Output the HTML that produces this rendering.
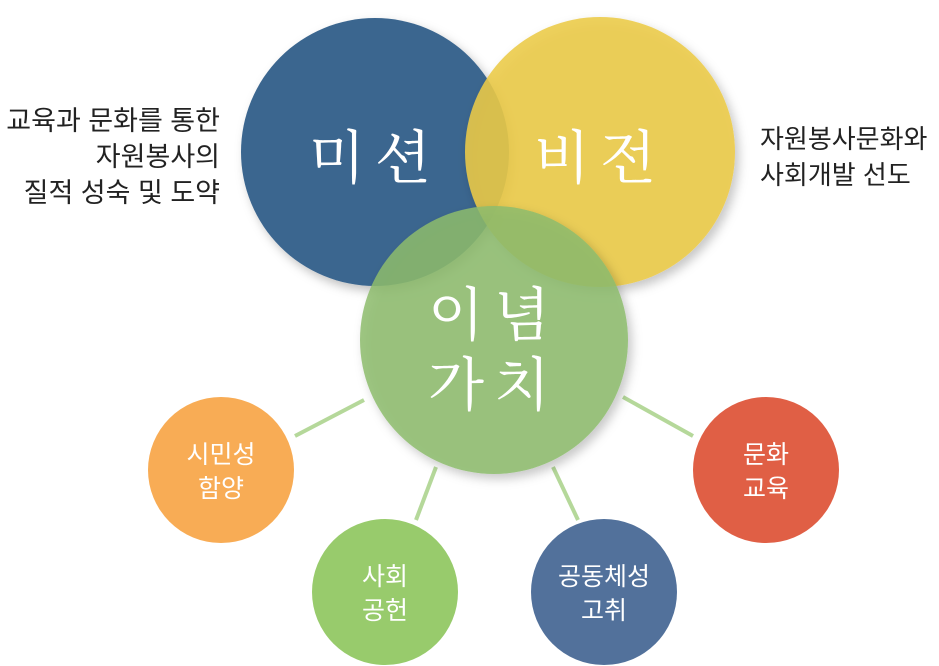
<!DOCTYPE html>
<html><head><meta charset="utf-8"><style>
body{margin:0;background:#fff;}
svg{display:block}
.s{font-family:"Liberation Sans","Noto Sans CJK KR",sans-serif;}
.b{font-family:"Noto Serif CJK SC","Noto Sans CJK KR",serif;}
</style></head><body>
<svg width="939" height="666" viewBox="0 0 939 666">
<defs><filter id="sh" x="-20%" y="-20%" width="150%" height="150%"><feDropShadow dx="4" dy="5" stdDeviation="5" flood-color="#000" flood-opacity="0.25"/></filter></defs>
<g stroke="#b5d89a" stroke-width="4">
<line x1="295" y1="436" x2="364" y2="400"/>
<line x1="416" y1="520" x2="436" y2="467"/>
<line x1="578" y1="520" x2="553" y2="467"/>
<line x1="693" y1="436" x2="623" y2="397"/>
</g>
<circle cx="375" cy="152" r="134" fill="#3b668f" filter="url(#sh)"/>
<circle cx="600" cy="152" r="135" fill="#eccb48" fill-opacity="0.88" filter="url(#sh)"/>
<circle cx="494" cy="340" r="134" fill="#8dbc6c" fill-opacity="0.85" filter="url(#sh)"/>
<circle cx="221" cy="470" r="73" fill="#f8ac55"/>
<circle cx="385" cy="592" r="73" fill="#98cb6c"/>
<circle cx="604" cy="592" r="73" fill="#52719b"/>
<circle cx="766" cy="470" r="73" fill="#e05f45"/>
<g class="b" fill="#fff" font-size="58" text-anchor="middle">
<text x="375" y="178" letter-spacing="10">미션</text>
<text x="600" y="178" letter-spacing="10">비전</text>
<text x="494" y="335" letter-spacing="10">이념</text>
<text x="494" y="405" letter-spacing="10">가치</text>
</g>
<g class="s" fill="#fff" font-size="25" text-anchor="middle">
<text x="221" y="463">시민성</text><text x="221" y="497">함양</text>
<text x="385" y="585">사회</text><text x="385" y="619">공헌</text>
<text x="604" y="585">공동체성</text><text x="604" y="619">고취</text>
<text x="766" y="463">문화</text><text x="766" y="497">교육</text>
</g>
<g class="s" fill="#222" font-size="27">
<text x="220" y="130" text-anchor="end">교육과 문화를 통한</text>
<text x="220" y="166" text-anchor="end">자원봉사의</text>
<text x="220" y="202" text-anchor="end">질적 성숙 및 도약</text>
<text x="760" y="148" font-size="26">자원봉사문화와</text>
<text x="760" y="184" font-size="26">사회개발 선도</text>
</g>
</svg>
</body></html>
